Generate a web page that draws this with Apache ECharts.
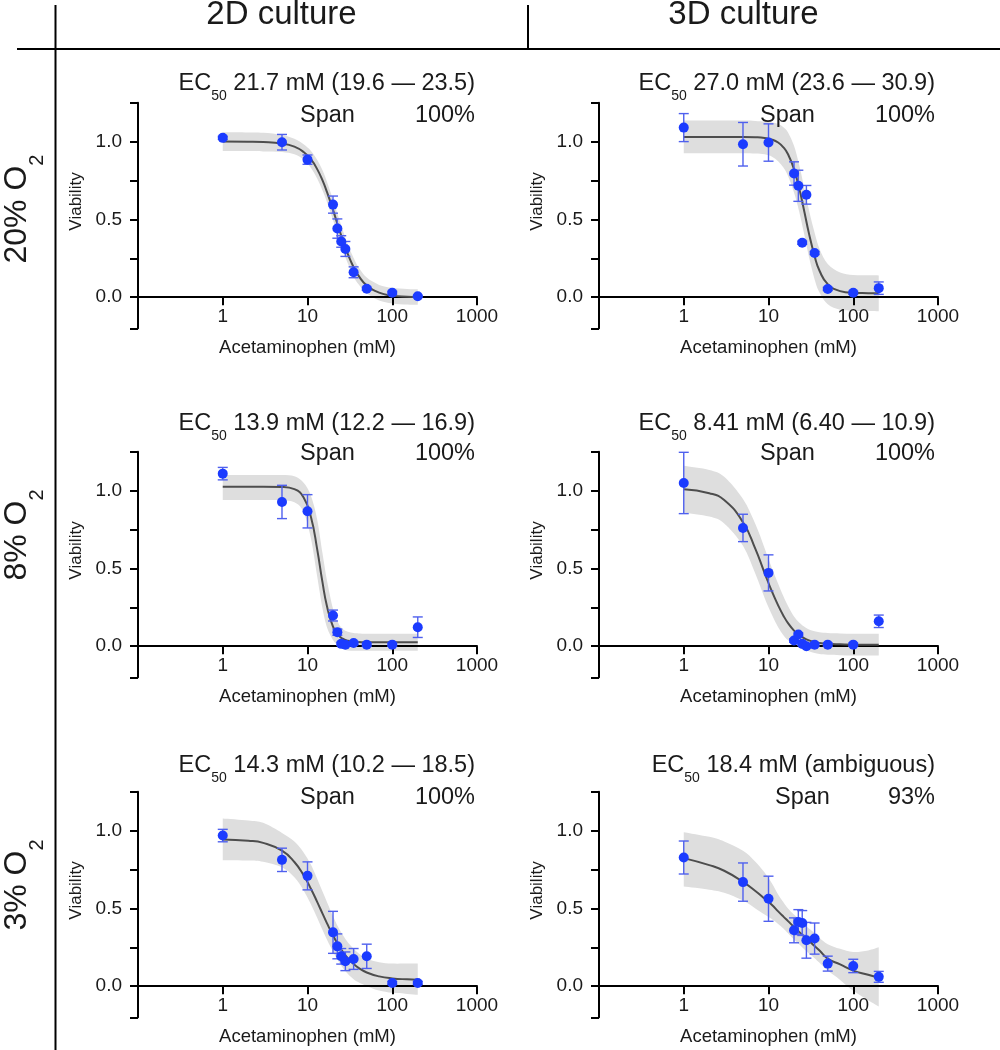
<!DOCTYPE html>
<html>
<head>
<meta charset="utf-8">
<script src="https://cdn.jsdelivr.net/npm/echarts@6/dist/echarts.min.js"></script>
<style>html,body{margin:0;padding:0;background:#fff}#c{width:1000px;height:1050px}</style>
</head>
<body>
<div id="c"></div>
<script>
// ---------------- DATA ----------------
const columnLabels = ['2D culture', '3D culture'];
const rowLabels = ['20% O', '8% O', '3% O'];
const xTickLabels = ['1', '10', '100', '1000'];
const yTickLabels = ['0.0', '0.5', '1.0'];

const concentrations = [1, 5, 10, 20, 22.5, 25, 28, 35, 50, 100, 200];
const fitX = [1, 2, 3, 5, 7, 9, 11, 13, 15, 17, 20, 23, 26, 30, 35, 40, 50, 70, 100, 150, 200];

// 20% O2, 2D
const via20_2D = [1.024, 0.996, 0.884, 0.595, 0.441, 0.358, 0.31, 0.16, 0.054, 0.028, 0.006];
const err20_2D = [0.01, 0.05, 0.03, 0.055, 0.062, 0.037, 0.048, 0.035, 0.01, 0.01, 0.005];
const fit20_2D = [1.000, 0.999, 0.997, 0.988, 0.968, 0.933, 0.885, 0.823, 0.752, 0.675, 0.561, 0.456, 0.368, 0.275, 0.192, 0.138, 0.076, 0.029, 0.010, 0.003, 0.001];
const lo20_2D = [0.940, 0.939, 0.937, 0.933, 0.918, 0.883, 0.830, 0.763, 0.687, 0.610, 0.496, 0.391, 0.303, 0.215, 0.132, 0.083, 0.026, -0.021, -0.040, -0.047, -0.049];
const hi20_2D = [1.060, 1.059, 1.057, 1.043, 1.018, 0.983, 0.940, 0.883, 0.817, 0.740, 0.626, 0.521, 0.433, 0.335, 0.252, 0.193, 0.126, 0.079, 0.060, 0.053, 0.051];

// 20% O2, 3D
const via20_3D = [1.09, 0.983, 0.994, 0.795, 0.716, 0.35, 0.658, 0.284, 0.053, 0.028, 0.058];
const err20_3D = [0.09, 0.14, 0.12, 0.075, 0.10, 0.01, 0.06, 0.01, 0.01, 0.01, 0.04];
const fit20_3D = [1.030, 1.030, 1.030, 1.030, 1.028, 1.023, 1.013, 0.994, 0.963, 0.919, 0.823, 0.701, 0.570, 0.410, 0.264, 0.170, 0.084, 0.039, 0.028, 0.026, 0.025];
const lo20_3D = [0.925, 0.925, 0.925, 0.925, 0.923, 0.918, 0.903, 0.874, 0.833, 0.779, 0.673, 0.551, 0.420, 0.260, 0.114, 0.030, -0.046, -0.081, -0.087, -0.089, -0.090];
const hi20_3D = [1.135, 1.135, 1.135, 1.135, 1.133, 1.128, 1.123, 1.114, 1.093, 1.059, 0.973, 0.851, 0.720, 0.560, 0.414, 0.310, 0.214, 0.159, 0.143, 0.141, 0.140];

// 8% O2, 2D
const via8_2D = [1.109, 0.927, 0.867, 0.197, 0.09, 0.015, 0.009, 0.02, 0.01, 0.01, 0.122];
const err8_2D = [0.04, 0.107, 0.107, 0.035, 0.02, 0.01, 0.01, 0.01, 0.01, 0.01, 0.066];
const fit8_2D = [1.025, 1.025, 1.025, 1.023, 1.009, 0.956, 0.828, 0.624, 0.413, 0.255, 0.126, 0.072, 0.048, 0.035, 0.029, 0.027, 0.025, 0.025, 0.025, 0.025, 0.025];
const lo8_2D = [0.940, 0.940, 0.940, 0.938, 0.925, 0.862, 0.690, 0.450, 0.245, 0.120, 0.040, 0.003, -0.018, -0.028, -0.030, -0.030, -0.030, -0.030, -0.030, -0.030, -0.030];
const hi8_2D = [1.100, 1.100, 1.100, 1.100, 1.092, 1.050, 0.965, 0.815, 0.600, 0.420, 0.240, 0.150, 0.110, 0.092, 0.085, 0.082, 0.080, 0.080, 0.080, 0.080, 0.080];

// 8% O2, 3D
const via8_3D = [1.049, 0.76, 0.471, 0.036, 0.075, 0.015, 0.0, 0.01, 0.01, 0.01, 0.16];
const err8_3D = [0.197, 0.088, 0.116, 0.01, 0.01, 0.01, 0.01, 0.01, 0.01, 0.01, 0.04];
const fit8_3D = [1.008, 0.983, 0.939, 0.796, 0.625, 0.470, 0.350, 0.262, 0.196, 0.148, 0.100, 0.072, 0.053, 0.037, 0.026, 0.020, 0.015, 0.012, 0.010, 0.010, 0.010];
const lo8_3D = [0.860, 0.833, 0.789, 0.646, 0.465, 0.310, 0.200, 0.122, 0.071, 0.038, 0.010, -0.008, -0.022, -0.033, -0.044, -0.050, -0.055, -0.058, -0.060, -0.060, -0.060];
const hi8_3D = [1.160, 1.133, 1.089, 0.946, 0.785, 0.630, 0.500, 0.402, 0.321, 0.258, 0.190, 0.152, 0.128, 0.107, 0.096, 0.090, 0.085, 0.082, 0.080, 0.080, 0.080];

// 3% O2, 2D
const via3_2D = [0.968, 0.812, 0.709, 0.346, 0.256, 0.192, 0.16, 0.175, 0.192, 0.021, 0.021];
const err3_2D = [0.04, 0.075, 0.09, 0.135, 0.08, 0.05, 0.06, 0.067, 0.078, 0.01, 0.01];
const fit3_2D = [0.943, 0.935, 0.921, 0.871, 0.798, 0.713, 0.625, 0.542, 0.468, 0.404, 0.326, 0.267, 0.222, 0.179, 0.142, 0.118, 0.088, 0.063, 0.050, 0.044, 0.042];
const lo3_2D = [0.810, 0.808, 0.800, 0.765, 0.700, 0.615, 0.525, 0.440, 0.362, 0.298, 0.222, 0.163, 0.119, 0.078, 0.045, 0.025, 0.000, -0.028, -0.043, -0.050, -0.055];
const hi3_2D = [1.078, 1.065, 1.050, 0.985, 0.930, 0.860, 0.780, 0.690, 0.610, 0.540, 0.450, 0.380, 0.330, 0.280, 0.240, 0.211, 0.176, 0.154, 0.145, 0.145, 0.145];

// 3% O2, 3D
const via3_3D = [0.827, 0.669, 0.562, 0.359, 0.412, 0.406, 0.295, 0.306, 0.145, 0.13, 0.06];
const err3_3D = [0.106, 0.123, 0.145, 0.08, 0.08, 0.08, 0.115, 0.1, 0.048, 0.043, 0.035];
const fit3_3D = [0.823, 0.778, 0.742, 0.670, 0.612, 0.563, 0.522, 0.481, 0.447, 0.418, 0.380, 0.348, 0.322, 0.292, 0.258, 0.229, 0.177, 0.140, 0.100, 0.073, 0.053];
const lo3_3D = [0.640, 0.620, 0.600, 0.550, 0.500, 0.460, 0.430, 0.400, 0.370, 0.340, 0.300, 0.270, 0.240, 0.210, 0.180, 0.150, 0.100, 0.040, -0.030, -0.090, -0.130];
const hi3_3D = [0.990, 0.960, 0.930, 0.870, 0.800, 0.730, 0.660, 0.590, 0.540, 0.500, 0.460, 0.430, 0.400, 0.370, 0.340, 0.310, 0.270, 0.240, 0.220, 0.230, 0.250];

const ec50Labels = ['21.7 mM (19.6 \u2014 23.5)', '27.0 mM (23.6 \u2014 30.9)', '13.9 mM (12.2 \u2014 16.9)',
                    '8.41 mM (6.40 \u2014 10.9)', '14.3 mM (10.2 \u2014 18.5)', '18.4 mM (ambiguous)'];
const spanLabels = ['100%', '100%', '100%', '100%', '100%', '93%'];

const panels = [
  {via: via20_2D, err: err20_2D, fit: fit20_2D, lo: lo20_2D, hi: hi20_2D},
  {via: via20_3D, err: err20_3D, fit: fit20_3D, lo: lo20_3D, hi: hi20_3D},
  {via: via8_2D, err: err8_2D, fit: fit8_2D, lo: lo8_2D, hi: hi8_2D},
  {via: via8_3D, err: err8_3D, fit: fit8_3D, lo: lo8_3D, hi: hi8_3D},
  {via: via3_2D, err: err3_2D, fit: fit3_2D, lo: lo3_2D, hi: hi3_2D},
  {via: via3_3D, err: err3_3D, fit: fit3_3D, lo: lo3_3D, hi: hi3_3D}
];

// ---------------- LAYOUT ----------------
const FONT = '"Liberation Sans", Arial, Helvetica, sans-serif';
const TXT = '#1a1a1a';
const Y_MIN = -0.2, Y_MAX = 1.25;
const gridLeft = [138, 599];
const gridTop = [102.7, 451.7, 791.7];
const gridW = 339, gridH = 225.6;
const zeroOffset = -gridH * (0 - Y_MIN) / (Y_MAX - Y_MIN);  // put x axis line at y = 0
const titleRight = [475, 935];
const ecBaseline = [90, 430, 772];
const spanBaseline = [120, 457.5, 802];
const spanLeftOffset = [175, 175, 175, 175, 175, 160];
const rowLabelY = [209, 535, 885];
const colLabelX = [281.5, 743.5];

// smooth path segments (Catmull-Rom -> cubic Bezier) through pixel points
function smoothSegments(pts) {
  let d = '';
  for (let k = 0; k < pts.length - 1; k++) {
    const p0 = pts[k - 1] || pts[k], p1 = pts[k], p2 = pts[k + 1], p3 = pts[k + 2] || pts[k + 1];
    const c1x = p1[0] + (p2[0] - p0[0]) / 6, c1y = p1[1] + (p2[1] - p0[1]) / 6;
    const c2x = p2[0] - (p3[0] - p1[0]) / 6, c2y = p2[1] - (p3[1] - p1[1]) / 6;
    d += ' C' + c1x.toFixed(2) + ' ' + c1y.toFixed(2) + ' ' + c2x.toFixed(2) + ' ' + c2y.toFixed(2) + ' ' + p2[0].toFixed(2) + ' ' + p2[1].toFixed(2);
  }
  return d;
}

const grids = [], xAxes = [], yAxes = [], series = [], graphics = [];

panels.forEach((p, i) => {
  const col = i % 2, row = Math.floor(i / 2);
  grids.push({left: gridLeft[col], top: gridTop[row], width: gridW, height: gridH, containLabel: false});
  xAxes.push({
    type: 'log', logBase: 10, gridIndex: i, min: 0.1, max: 1000, z: 3,
    position: 'bottom', offset: zeroOffset,
    axisLine: {onZero: false, lineStyle: {color: '#000', width: 2}},
    axisTick: {length: 8, lineStyle: {color: '#000', width: 2}},
    axisLabel: {fontFamily: FONT, fontSize: 19, color: TXT, margin: 10,
      formatter: v => { const s = String(Math.round(v)); return xTickLabels.indexOf(s) >= 0 && v >= 0.5 ? s : ''; }},
    splitLine: {show: false},
    name: 'Acetaminophen (mM)', nameLocation: 'middle', nameGap: 41,
    nameTextStyle: {fontFamily: FONT, fontSize: 18.5, color: TXT}
  });
  yAxes.push({
    type: 'value', gridIndex: i, min: Y_MIN, max: Y_MAX, z: 3,
    axisLine: {show: true, onZero: false, lineStyle: {color: '#000', width: 2}},
    axisTick: {show: true, length: 8, customValues: [-0.2, 0, 0.25, 0.5, 0.75, 1, 1.25], lineStyle: {color: '#000', width: 2}},
    axisLabel: {customValues: [0, 0.5, 1], formatter: v => yTickLabels[Math.round(v * 2)],
      fontFamily: FONT, fontSize: 19, color: TXT, margin: 16},
    splitLine: {show: false},
    name: 'Viability', nameLocation: 'middle', nameGap: 53, nameRotate: 90,
    nameTextStyle: {fontFamily: FONT, fontSize: 17, color: TXT, padding: [0, 0, 0, 28]}
  });

  // confidence band
  series.push({
    type: 'custom', xAxisIndex: i, yAxisIndex: i, z: 1, silent: true, animation: false,
    data: fitX.map((x, k) => [x, p.lo[k], p.hi[k]]),
    encode: {x: 0, y: [1, 2]},
    renderItem: (params, api) => {
      if (params.dataIndex !== 0) return null;
      const up = fitX.map((x, k) => api.coord([x, p.hi[k]]));
      const dn = fitX.map((x, k) => api.coord([x, p.lo[k]])).reverse();
      const d = 'M' + up[0][0].toFixed(2) + ' ' + up[0][1].toFixed(2) + smoothSegments(up) +
                ' L' + dn[0][0].toFixed(2) + ' ' + dn[0][1].toFixed(2) + smoothSegments(dn) + ' Z';
      return {type: 'path', shape: {pathData: d}, style: {fill: '#dedede', stroke: null}};
    }
  });
  // fitted curve
  series.push({
    type: 'line', xAxisIndex: i, yAxisIndex: i,
    data: fitX.map((x, k) => [x, p.fit[k]]), symbol: 'none', smooth: true,
    lineStyle: {color: '#4d4d4d', width: 2}, silent: true, z: 4, animation: false
  });
  // error bars
  series.push({
    type: 'custom', xAxisIndex: i, yAxisIndex: i, z: 5, silent: true, animation: false,
    data: concentrations.map((c, k) => [c, p.via[k], p.err[k]]),
    encode: {x: 0, y: 1},
    renderItem: (params, api) => {
      const x = api.value(0), y = api.value(1), e = api.value(2);
      const t = api.coord([x, y + e]), b = api.coord([x, y - e]);
      const hw = 5, st = {stroke: '#4f60ee', lineWidth: 1.4};
      return {type: 'group', children: [
        {type: 'line', shape: {x1: t[0], y1: t[1], x2: b[0], y2: b[1]}, style: st},
        {type: 'line', shape: {x1: t[0] - hw, y1: t[1], x2: t[0] + hw, y2: t[1]}, style: st},
        {type: 'line', shape: {x1: b[0] - hw, y1: b[1], x2: b[0] + hw, y2: b[1]}, style: st}
      ]};
    }
  });
  // points
  series.push({
    type: 'scatter', xAxisIndex: i, yAxisIndex: i, z: 6, silent: true, animation: false,
    data: concentrations.map((c, k) => [c, p.via[k]]),
    symbol: 'circle', symbolSize: 10, itemStyle: {color: '#1b3bff', opacity: 1}
  });

  // panel titles
  const right = titleRight[col];
  graphics.push({
    type: 'text', x: right, y: ecBaseline[row] - 18, silent: true, z: 10,
    style: {
      text: '{a|EC}{b|50}{a| ' + ec50Labels[i] + '}', align: 'right', verticalAlign: 'top',
      rich: {
        a: {fontFamily: FONT, fontSize: 23.5, lineHeight: 28, verticalAlign: 'top', fill: TXT},
        b: {fontFamily: FONT, fontSize: 14, lineHeight: 14, verticalAlign: 'top', padding: [17, 0, 0, 0], fill: TXT}
      }
    }
  });
  graphics.push({
    type: 'text', x: right - spanLeftOffset[i], y: spanBaseline[row] - 18, silent: true, z: 10,
    style: {text: 'Span', fontFamily: FONT, fontSize: 23.5, lineHeight: 28, fill: TXT, align: 'left', verticalAlign: 'top'}
  });
  graphics.push({
    type: 'text', x: right, y: spanBaseline[row] - 18, silent: true, z: 10,
    style: {text: spanLabels[i], fontFamily: FONT, fontSize: 23.5, lineHeight: 28, fill: TXT, align: 'right', verticalAlign: 'top'}
  });
});

// header frame lines
graphics.push({type: 'line', silent: true, z: 10, shape: {x1: 17, y1: 49, x2: 1000, y2: 49}, style: {stroke: '#000', lineWidth: 2}});
graphics.push({type: 'line', silent: true, z: 10, shape: {x1: 55.5, y1: 5, x2: 55.5, y2: 1050}, style: {stroke: '#000', lineWidth: 2}});
graphics.push({type: 'line', silent: true, z: 10, shape: {x1: 528, y1: 5, x2: 528, y2: 49}, style: {stroke: '#000', lineWidth: 2}});

columnLabels.forEach((t, c) => {
  graphics.push({type: 'text', x: colLabelX[c], y: 15, silent: true, z: 10,
    style: {text: t, fontFamily: FONT, fontSize: 33, fill: TXT, align: 'center', verticalAlign: 'middle'}});
});
rowLabels.forEach((t, r) => {
  graphics.push({type: 'text', x: 19, y: rowLabelY[r], rotation: Math.PI / 2, silent: true, z: 10,
    style: {
      text: '{a|' + t + '}{b|2}', align: 'center', verticalAlign: 'middle',
      rich: {
        a: {fontFamily: FONT, fontSize: 32, lineHeight: 36, verticalAlign: 'top', fill: TXT},
        b: {fontFamily: FONT, fontSize: 20, lineHeight: 20, verticalAlign: 'top', padding: [26, 0, 0, 0], fill: TXT}
      }
    }});
});

const chart = echarts.init(document.getElementById('c'), null, {renderer: 'canvas'});
chart.setOption({
  animation: false,
  backgroundColor: '#fff',
  grid: grids, xAxis: xAxes, yAxis: yAxes, series: series,
  graphic: {elements: graphics}
});
</script>
</body>
</html>
